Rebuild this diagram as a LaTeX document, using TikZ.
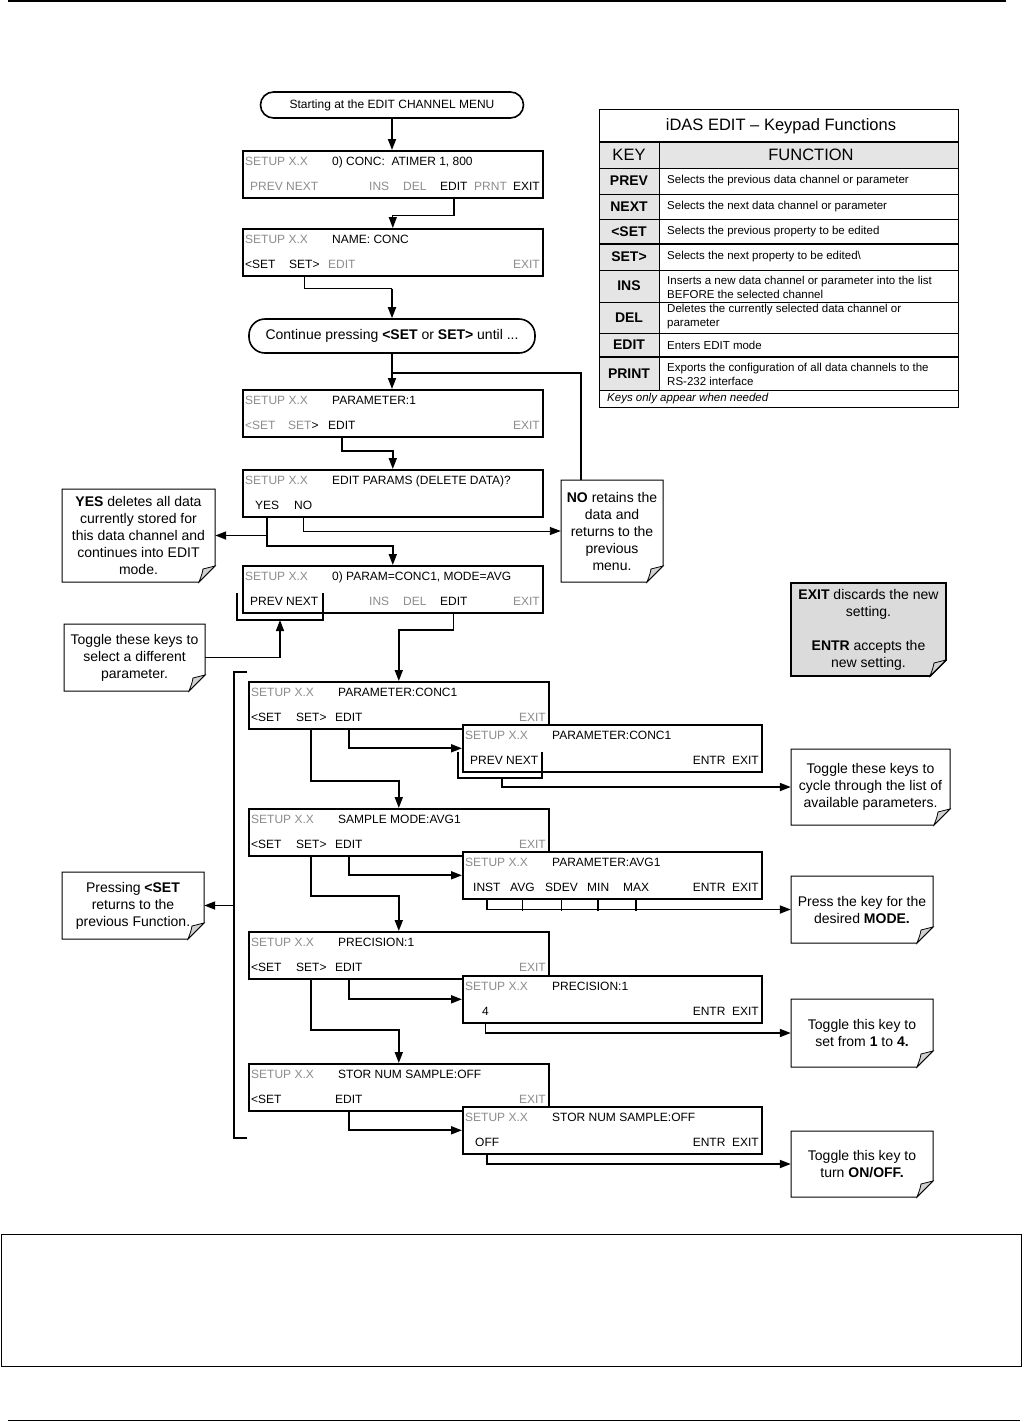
\documentclass[tikz,border=0pt]{standalone}
\usepackage{fontspec}
\setmainfont{Liberation Sans}
\usetikzlibrary{arrows.meta,calc}
\tikzset{
  scr/.style={draw, line width=1.6pt, minimum width=300pt, minimum height=47pt, anchor=north west, inner sep=0pt, fill=white},
  subscr/.style={scr, minimum width=299pt},
  tx/.style={font=\fontsize{12}{14}\selectfont, inner sep=0pt, anchor=base west},
  txr/.style={tx, anchor=base east},
  gr/.style={text=black!45},
  thk/.style={line width=1.8pt},
  mid/.style={line width=1.3pt},
  thn/.style={line width=0.9pt},
  arr/.style={-{Triangle[length=11pt,width=8pt]}},
  notetext/.style={font=\fontsize{14}{17}\selectfont, align=center, inner sep=0pt},
  fn/.style={font=\fontsize{11.5}{14}\selectfont, inner sep=0pt, anchor=west, align=left},
  kk/.style={font=\fontsize{14}{16}\bfseries\selectfont, inner sep=0pt},
}
\newcommand\mynote[7]{%
  \draw[line width=1pt, #6] (#2,#3) -- (#4,#3) -- (#4,#5-16) -- (#4-16,#5) -- (#2,#5) -- cycle;
  \draw[line width=0.8pt, fill=black!18] (#4-16,#5) .. controls (#4-13,#5-8) .. (#4-12,#5-13) -- (#4,#5-16) -- cycle;
  \node[notetext, minimum width=#4-#2, minimum height=#5-#3] (#1) at ({(#2+#4)/2},{(#3+#5)/2}) {#7};
}
\begin{document}
\begin{tikzpicture}[x=1pt,y=-1pt]
\useasboundingbox (0,0) rectangle (1023,1422);
% page rules
\draw[line width=1.2pt] (8,1) -- (1006,1);
\draw[line width=1pt] (8,1420) -- (1020,1420);
\draw[line width=1pt] (1,1234) rectangle (1021,1366);

% start box
\node[draw, line width=1.6pt, rounded corners=13pt, minimum width=263pt, minimum height=26pt, inner sep=0pt, font=\fontsize{12}{14}\selectfont] (start) at (392,105) {Starting at the EDIT CHANNEL MENU};

% screen 1
\node[scr] (s1) at (242,150) {};
\node[tx,gr] (s1a) at (245,165) {SETUP X.X};
\node[tx] (s1b) at (332,165) {0) CONC:\ \ ATIMER 1, 800};
\node[tx,gr] (s1c) at (250,190) {PREV NEXT};
\node[tx,gr] (s1d) at (369,190) {INS};
\node[tx,gr] (s1e) at (403,190) {DEL};
\node[tx] (s1edit) at (440,190) {EDIT};
\node[tx,gr] (s1f) at (474,190) {PRNT};
\node[txr] (s1g) at (540,190) {EXIT};

% screen 2
\node[scr] (s2) at (242,228) {};
\node[tx,gr] (s2a) at (245,243) {SETUP X.X};
\node[tx] (s2b) at (332,243) {NAME: CONC};
\node[tx] (s2c) at (245,268) {<SET};
\node[tx] (s2setr) at (289,268) {SET>};
\node[tx,gr] (s2d) at (328,268) {EDIT};
\node[txr,gr] (s2e) at (540,268) {EXIT};

% continue box
\node[draw, line width=1.6pt, rounded corners=16pt, minimum width=286pt, minimum height=34pt, inner sep=0pt, font=\fontsize{14}{16}\selectfont] (cont) at (392,336) {Continue pressing \textbf{<SET} or \textbf{SET>} until ...};

% screen 3
\node[scr] (s3) at (242,389) {};
\node[tx,gr] (s3a) at (245,404) {SETUP X.X};
\node[tx] (s3b) at (332,404) {PARAMETER:1};
\node[tx,gr] (s3c) at (245,429) {<SET};
\node[tx] (s3d) at (288,429) {\textcolor{black!45}{SET}>};
\node[tx] (s3edit) at (328,429) {EDIT};
\node[txr,gr] (s3e) at (540,429) {EXIT};

% screen 4
\node[scr] (s4) at (242,469) {};
\node[tx,gr] (s4a) at (245,484) {SETUP X.X};
\node[tx] (s4b) at (332,484) {EDIT PARAMS (DELETE DATA)?};
\node[tx] (s4yes) at (255,509) {YES};
\node[tx] (s4no) at (294,509) {NO};

% screen 5
\node[scr] (s5) at (242,565) {};
\node[tx,gr] (s5a) at (245,580) {SETUP X.X};
\node[tx] (s5b) at (332,580) {0) PARAM=CONC1, MODE=AVG};
\node[tx] (s5prev) at (250,605) {PREV NEXT};
\node[tx,gr] (s5c) at (369,605) {INS};
\node[tx,gr] (s5d) at (403,605) {DEL};
\node[tx] (s5edit) at (440,605) {EDIT};
\node[txr,gr] (s5e) at (540,605) {EXIT};

% screen 6 + sub
\node[scr] (s6) at (248,681) {};
\node[tx,gr] (s6a) at (251,696) {SETUP X.X};
\node[tx] (s6b) at (338,696) {PARAMETER:CONC1};
\node[tx] (s6c) at (251,721) {<SET};
\node[tx] (s6setr) at (296,721) {SET>};
\node[tx] (s6edit) at (335,721) {EDIT};
\node[txr,gr] (s6d) at (546,721) {EXIT};
\node[subscr] (u6) at (462,724) {};
\node[tx,gr] (u6a) at (465,739) {SETUP X.X};
\node[tx] (u6b) at (552,739) {PARAMETER:CONC1};
\node[tx] (u6prev) at (470,764) {PREV NEXT};
\node[txr] (u6c) at (759,764) {ENTR\ \ EXIT};

% screen 7 + sub
\node[scr] (s7) at (248,808) {};
\node[tx,gr] (s7a) at (251,823) {SETUP X.X};
\node[tx] (s7b) at (338,823) {SAMPLE MODE:AVG1};
\node[tx] (s7c) at (251,848) {<SET};
\node[tx] (s7setr) at (296,848) {SET>};
\node[tx] (s7edit) at (335,848) {EDIT};
\node[txr,gr] (s7d) at (546,848) {EXIT};
\node[subscr] (u7) at (462,851) {};
\node[tx,gr] (u7a) at (465,866) {SETUP X.X};
\node[tx] (u7b) at (552,866) {PARAMETER:AVG1};
\node[tx] (u7inst) at (473,891) {INST};
\node[tx] (u7avg) at (510,891) {AVG};
\node[tx] (u7sdev) at (545,891) {SDEV};
\node[tx] (u7min) at (587,891) {MIN};
\node[tx] (u7max) at (623,891) {MAX};
\node[txr] (u7c) at (759,891) {ENTR\ \ EXIT};

% screen 8 + sub
\node[scr] (s8) at (248,931) {};
\node[tx,gr] (s8a) at (251,946) {SETUP X.X};
\node[tx] (s8b) at (338,946) {PRECISION:1};
\node[tx] (s8c) at (251,971) {<SET};
\node[tx] (s8setr) at (296,971) {SET>};
\node[tx] (s8edit) at (335,971) {EDIT};
\node[txr,gr] (s8d) at (546,971) {EXIT};
\node[subscr] (u8) at (462,975) {};
\node[tx,gr] (u8a) at (465,990) {SETUP X.X};
\node[tx] (u8b) at (552,990) {PRECISION:1};
\node[tx] (u8four) at (482,1015) {4};
\node[txr] (u8c) at (759,1015) {ENTR\ \ EXIT};

% screen 9 + sub
\node[scr] (s9) at (248,1063) {};
\node[tx,gr] (s9a) at (251,1078) {SETUP X.X};
\node[tx] (s9b) at (338,1078) {STOR NUM SAMPLE:OFF};
\node[tx] (s9c) at (251,1103) {<SET};
\node[tx] (s9edit) at (335,1103) {EDIT};
\node[txr,gr] (s9d) at (546,1103) {EXIT};
\node[subscr] (u9) at (462,1106) {};
\node[tx,gr] (u9a) at (465,1121) {SETUP X.X};
\node[tx] (u9b) at (552,1121) {STOR NUM SAMPLE:OFF};
\node[tx] (u9off) at (475,1146) {OFF};
\node[txr] (u9c) at (759,1146) {ENTR\ \ EXIT};

% callouts
\mynote{yesnote}{62}{489}{215}{582}{fill=white}{\textbf{YES} deletes all data\\currently stored for\\this data channel and\\continues into EDIT\\mode.}
\mynote{nonote}{561}{480}{663}{582}{fill=white}{\textbf{NO} retains the\\data and\\returns to the\\previous\\menu.}
\mynote{exitnote}{791}{583}{946}{676}{fill=black!14, line width=1.8pt}{\textbf{EXIT} discards the new\\setting.\\[17pt]\textbf{ENTR} accepts the\\new setting.}
\mynote{tog1}{64}{624}{205}{691}{fill=white}{Toggle these keys to\\select a different\\parameter.}
\mynote{tog2}{791}{749}{950}{825}{fill=white}{Toggle these keys to\\cycle through the list of\\available parameters.}
\mynote{press}{62}{872}{204}{939}{fill=white}{Pressing \textbf{<SET}\\returns to the\\previous Function.}
\mynote{mode}{791}{876}{933}{943}{fill=white}{Press the key for the\\desired \textbf{MODE.}}
\mynote{tog3}{791}{999}{933}{1067}{fill=white}{Toggle this key to\\set from \textbf{1} to \textbf{4.}}
\mynote{tog4}{791}{1131}{933}{1197}{fill=white}{Toggle this key to\\turn \textbf{ON/OFF.}}

% connectors
\draw[thk,arr] (start.south) -- (start.south |- s1.north);
\draw[mid,arr] (s1edit.south |- s1.south) -- ++(0,17) -| (s2.north);
\draw[thn] (s2setr.south |- s2.south) -- ++(0,12) coordinate (c2) -- (c2 -| cont.north);
\draw[thk,arr] (c2 -| cont.north) -- (cont.north);
\coordinate (j1) at (392,373);
\draw[thk,arr] (cont.south) -- (cont.south |- s3.north);
\draw[thk] ($(nonote.north west)+(20,0)$) |- (j1);
\draw[thk,arr] (s3edit.south |- s3.south) -- ++(0,13) -| (s4.north);
\draw[thk,arr] (s4yes.south |- s4.south) -- ++(0,28) -| (s5.north);
\draw[thk,arr] (s4yes.south |- yesnote.east) -- (yesnote.east);
\draw[thn,arr] (s4no.south |- s4.south) |- (nonote.west);
% bracket under PREV NEXT (screen 5)
\coordinate (b5m) at (280,620);
\draw[mid] (237,593) -- (237,620) -- (323,620) -- (323,593);
\draw[mid,arr] (tog1.east) -| (b5m);
\draw[thn] (s5edit.south |- s5.south) -- ++(0,16) coordinate (e5);
\draw[thk,arr] (e5) -| (s6.north);
% screen 6
\draw[thk,arr] (s6setr.south |- s6.south) -- ++(0,51) -| (s7.north);
\draw[thk,arr] (s6edit.south |- s6.south) |- (u6.west);
\coordinate (b6m) at (502,778);
\draw[mid] (458,752) -- (458,778) -- (542,778) -- (542,752);
\draw[thk,arr] (b6m) |- (tog2.west);
% screen 7
\draw[thk,arr] (s7setr.south |- s7.south) -- ++(0,39) -| (s8.north);
\draw[thk,arr] (s7edit.south |- s7.south) |- (u7.west);
\draw[thk,arr] (u7inst.south |- u7.south) |- (mode.west);
\draw[thn] (u7avg.south |- u7.south) -- ++(0,11);
\draw[thk] (u7sdev.south |- u7.south) -- ++(0,11);
\draw[thk] (u7min.south |- u7.south) -- ++(0,11);
\draw[thk] (u7max.south |- u7.south) -- ++(0,11);
% screen 8
\draw[thk,arr] (s8setr.south |- s8.south) -- ++(0,50) -| (s9.north);
\draw[thk,arr] (s8edit.south |- s8.south) |- (u8.west);
\draw[thk,arr] (u8four.south |- u8.south) |- (tog3.west);
% screen 9
\draw[thk,arr] (s9edit.south |- s9.south) |- (u9.west);
\draw[thk,arr] (u9off.south |- u9.south) |- (tog4.west);
% big bracket
\coordinate (brk) at (234,906);
\draw[thk] (247,672) -- (234,672) -- (234,1138) -- (247,1138);
\draw[thk,arr] (brk |- press.east) -- (press.east);

% table
\fill[black!10] (599,142) rectangle (659,390);
\fill[black!10] (659,142) rectangle (958,168);
\draw[line width=1pt] (599,109) rectangle (958,407);
\draw[line width=1.2pt] (599,142) -- (958,142);
\foreach \yy in {168,194,219,270,302,333,390} \draw[line width=0.8pt] (599,\yy) -- (958,\yy);
\foreach \yy in {244,357} \draw[line width=1.4pt] (599,\yy) -- (958,\yy);
\draw[line width=0.8pt] (659,142) -- (659,390);
\node[font=\fontsize{16.5}{18}\selectfont, inner sep=0pt] (ttl) at (781,126) {iDAS EDIT – Keypad Functions};
\node[font=\fontsize{16.5}{18}\selectfont, inner sep=0pt] (hkey) at (629,155) {KEY};
\node[font=\fontsize{16.5}{18}\selectfont, inner sep=0pt] (hfun) at (811,155) {FUNCTION};
\node[kk] (k1) at (629,181) {PREV};
\node[kk] (k2) at (629,206.5) {NEXT};
\node[kk] (k3) at (629,231.5) {<SET};
\node[kk] (k4) at (629,257) {SET>};
\node[kk] (k5) at (629,286) {INS};
\node[kk] (k6) at (629,317.5) {DEL};
\node[kk] (k7) at (629,345) {EDIT};
\node[kk] (k8) at (629,373.5) {PRINT};
\node[fn] (f1) at (667,181) {Selects the previous data channel or parameter};
\node[fn] (f2) at (667,206.5) {Selects the next data channel or parameter};
\node[fn] (f3) at (667,231.5) {Selects the previous property to be edited};
\node[fn] (f4) at (667,257) {Selects the next property to be edited\textbackslash};
\node[fn] (f5) at (667,287) {Inserts a new data channel or parameter into the list\\BEFORE the selected channel};
\node[fn] (f6) at (667,317) {Deletes the currently selected data channel or\\parameter};
\node[fn] (f7) at (667,345) {Enters EDIT mode};
\node[fn] (f8) at (667,374) {Exports the configuration of all data channels to the\\RS-232 interface};
\node[fn, font=\fontsize{11.5}{14}\itshape\selectfont] (foot) at (607,398.5) {Keys only appear when needed};
\end{tikzpicture}
\end{document}
